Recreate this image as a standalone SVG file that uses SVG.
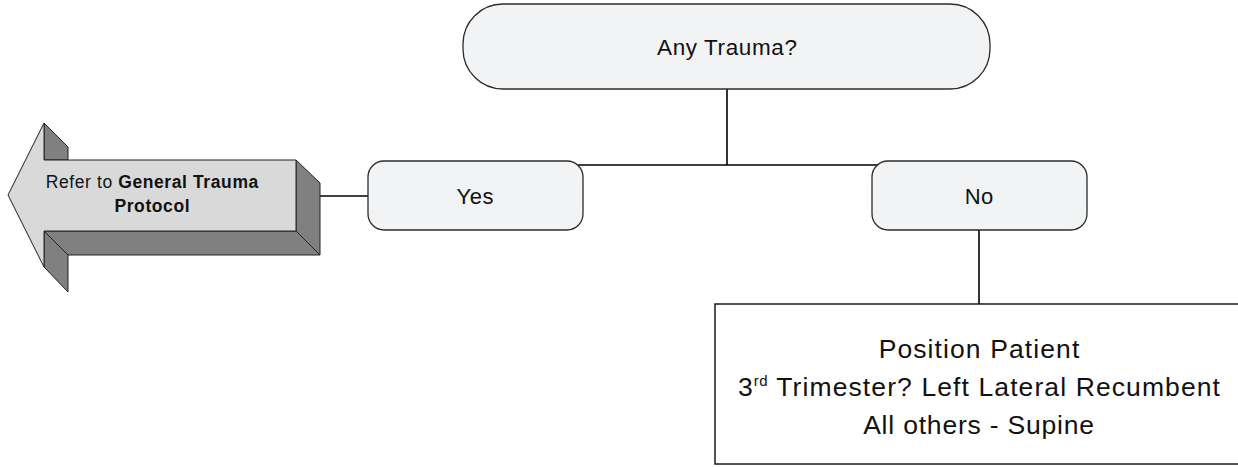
<svg xmlns="http://www.w3.org/2000/svg" width="1238" height="467" viewBox="0 0 1238 467">
<style>
.rb{fill:#f2f3f5;stroke:#2b2b2b;stroke-width:1.3}
.bx{fill:#ffffff;stroke:#1a1a1a;stroke-width:1.5}
.ln{fill:none;stroke:#000;stroke-width:1.6}
.t{font-family:"Liberation Sans",Arial,sans-serif;fill:#111;text-anchor:middle}
.front{fill:#d9d9d9;stroke:#222;stroke-width:1}
.side{fill:#808080;stroke:#222;stroke-width:1}
</style>
<rect width="1238" height="467" fill="#fff"/>
<g id="connectors">
<line class="ln" x1="727" y1="89" x2="727" y2="165"/>
<line class="ln" x1="578" y1="165" x2="878" y2="165"/>
<line class="ln" x1="320" y1="196" x2="368" y2="196"/>
<line class="ln" x1="979" y1="230" x2="979" y2="304"/>
</g>
<g id="any-trauma">
<rect class="rb" x="463" y="4" width="527" height="85" rx="40" ry="40"/>
<text class="t" x="727.3" y="55" font-size="22.5" letter-spacing="0.6">Any Trauma?</text>
</g>
<g id="yes">
<rect class="rb" x="368" y="161" width="215" height="69" rx="16" ry="16"/>
<text class="t" x="475.3" y="204" font-size="22" letter-spacing="0.6">Yes</text>
</g>
<g id="no">
<rect class="rb" x="872" y="161" width="215" height="69" rx="16" ry="16"/>
<text class="t" x="979.3" y="204" font-size="22" letter-spacing="0.6">No</text>
</g>
<g id="position-patient">
<rect class="bx" x="715" y="304" width="540" height="160"/>
<text class="t" x="979.5" y="358" font-size="26.5" letter-spacing="1.1">Position Patient</text>
<text class="t" x="979.5" y="396" font-size="26.5" letter-spacing="1.1">3<tspan font-size="15" dy="-10" letter-spacing="0.6">rd</tspan><tspan dy="10"> Trimester? Left Lateral Recumbent</tspan></text>
<text class="t" x="979" y="434" font-size="26.5" letter-spacing="0.8">All others - Supine</text>
</g>
<g id="general-trauma-arrow">
<polygon class="side" points="44,123 68,147 68,160 44,160"/>
<polygon class="side" points="296,160 320,183 320,255 296,231"/>
<polygon class="side" points="44,231 296,231 320,255 68,255"/>
<polygon class="side" points="44,231 44,267 68,292 68,255"/>
<polygon class="front" points="8,195 44,123 44,160 296,160 296,231 44,231 44,267"/>
<text class="t" x="152.3" y="188" font-size="17.5" letter-spacing="0.6">Refer to <tspan font-weight="bold">General Trauma</tspan></text>
<text class="t" x="152.3" y="212" font-size="17.5" font-weight="bold" letter-spacing="0.6">Protocol</text>
</g>
</svg>
